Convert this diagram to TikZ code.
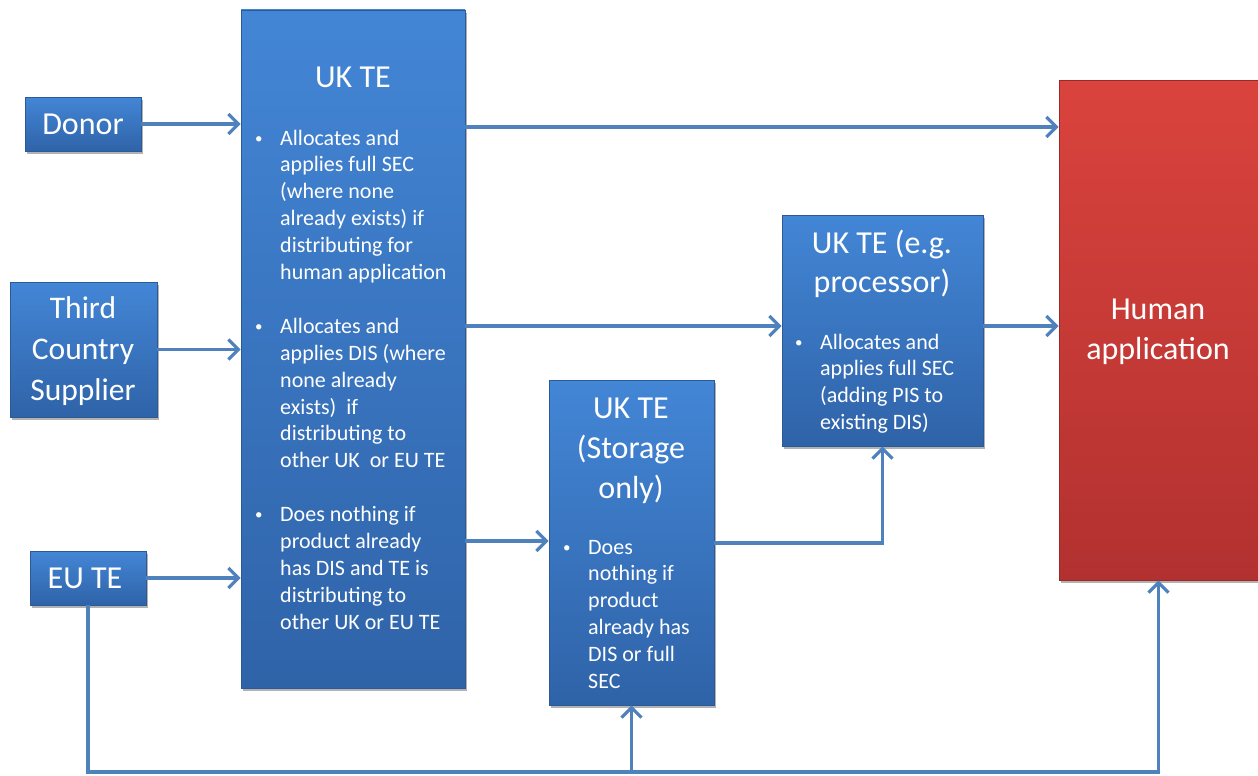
\documentclass[tikz,border=0pt]{standalone}
\usepackage{fontspec}
\setmainfont{Carlito}
\usetikzlibrary{arrows.meta,shadows}
\definecolor{lnblue}{HTML}{4F81BD}
\definecolor{bxtop}{HTML}{4386D6}
\definecolor{bxbot}{HTML}{2F63A8}
\definecolor{bxedge}{HTML}{2A5A98}
\definecolor{rdtop}{HTML}{DA433D}
\definecolor{rdbot}{HTML}{B23130}
\definecolor{rdedge}{HTML}{9A2A28}
\newcommand{\bul}{\makebox[25pt][l]{\raisebox{2pt}{\fontsize{15}{15}\selectfont\textbullet}}}
\newcommand{\hin}{\hspace*{25pt}}
\tikzset{
 box/.style={rectangle, inner sep=0pt, top color=bxtop, bottom color=bxbot, draw=bxedge, line width=0.6pt,
   drop shadow={shadow xshift=2pt,shadow yshift=-3pt,opacity=0.3,fill=black}, text=white},
 redbox/.style={box, top color=rdtop, bottom color=rdbot, draw=rdedge},
 txt/.style={inner sep=0pt, anchor=base, text=white},
 txtl/.style={inner sep=0pt, anchor=base west, text=white},
 arr/.style={draw=lnblue, line width=3.2pt, -{Straight Barb[length=10pt,width=20pt]}},
}
\begin{document}
\begin{tikzpicture}[x=1pt,y=-1pt]
\useasboundingbox (0,0) rectangle (1258,776);

% boxes
\node[box, minimum width=116pt, minimum height=54pt, font=\fontsize{32}{38}\selectfont] (donor) at (83,124) {Donor\hspace{5pt}};
\node[box, minimum width=147pt, minimum height=135pt] (third) at (83.5,349.5) {};
\node[box, minimum width=116pt, minimum height=54pt, font=\fontsize{32}{38}\selectfont] (eu) at (88,578) {\hspace{-6pt}EU TE};
\node[box, minimum width=224pt, minimum height=678pt] (ukte) at (353,349) {};
\node[box, minimum width=201pt, minimum height=231pt] (proc) at (882.5,330.5) {};
\node[box, minimum width=165pt, minimum height=325pt] (store) at (631.5,542.5) {};
\node[redbox, minimum width=199pt, minimum height=500pt] (human) at (1158.5,330) {};

% texts
\node[txt] (thirdtxt) at (83,318) {\parbox[t]{140pt}{\centering\fontsize{31.5}{41}\selectfont Third\\ Country\\ Supplier}};
\node[txt] (uktitle) at (353,87) {\fontsize{32}{40}\selectfont UK TE};
\node[txtl] (ukbody) at (255,145) {\parbox[t]{215pt}{\fontsize{22}{26.9}\selectfont
\bul Allocates and\\
\hin applies full SEC\\
\hin (where none\\
\hin already exists) if\\
\hin distributing for\\
\hin human application\\[26.9pt]
\bul Allocates and\\
\hin applies DIS (where\\
\hin none already\\
\hin exists)\ \ if\\
\hin distributing to\\
\hin other UK\ \ or EU TE\\[26.9pt]
\bul Does nothing if\\
\hin product already\\
\hin has DIS and TE is\\
\hin distributing to\\
\hin other UK or EU TE}};
\node[txt] (proctitle) at (882,253) {\parbox[t]{200pt}{\centering\fontsize{32}{39}\selectfont UK TE (e.g.\\ processor)}};
\node[txtl] (procbody) at (795,349) {\parbox[t]{190pt}{\fontsize{22}{26.9}\selectfont
\bul Allocates and\\
\hin applies full SEC\\
\hin (adding PIS to\\
\hin existing DIS)}};
\node[txt] (storetitle) at (631,418) {\parbox[t]{160pt}{\centering\fontsize{32}{40}\selectfont UK TE\\ (Storage\\ only)}};
\node[txtl] (storebody) at (563,554) {\parbox[t]{160pt}{\fontsize{22}{26.9}\selectfont
\bul Does\\
\hin nothing if\\
\hin product\\
\hin already has\\
\hin DIS or full\\
\hin SEC}};
\node[txt] (humantxt) at (1158,319) {\parbox[t]{195pt}{\centering\fontsize{32}{40}\selectfont Human\\ application}};

% level coordinates
\coordinate (r1) at (0,127);
\coordinate (r2) at (0,326);
\coordinate (r3) at (0,541);
\coordinate (r4) at (0,543);
\coordinate (rb) at (0,772);

% connectors
\draw[arr] (donor.east) -- (donor.east -| ukte.west);
\draw[arr] (third.east) -- (third.east -| ukte.west);
\draw[arr] (eu.east) -- (eu.east -| ukte.west);
\draw[arr] (ukte.east |- r1) -- (human.west |- r1);
\draw[arr] (ukte.east |- r2) -- (proc.west |- r2);
\draw[arr] (ukte.east |- r3) -- (store.west |- r3);
\draw[arr] (store.east |- r4) -- (proc.south |- r4) -- (proc.south);
\draw[arr] (proc.east |- r2) -- (human.west |- r2);
\draw[arr] (eu.south) -- (eu.south |- rb) -- (human.south |- rb) -- (human.south);
\draw[arr] (store.south |- rb) -- (store.south);
\end{tikzpicture}
\end{document}
